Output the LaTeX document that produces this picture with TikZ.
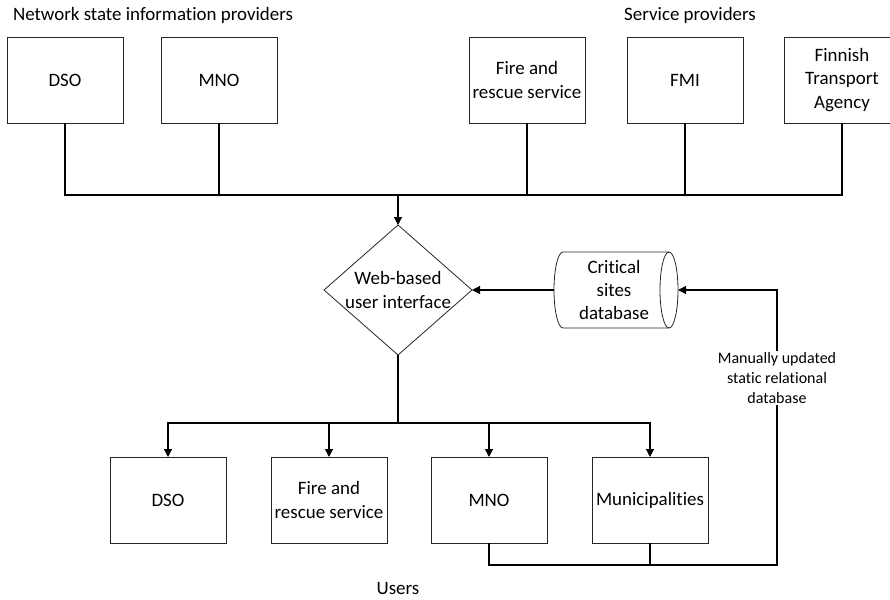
\documentclass[tikz,border=0pt]{standalone}
\usepackage{fontspec}
\setmainfont{Carlito}[Ligatures=NoCommon]
\usetikzlibrary{shapes.geometric,arrows.meta}
\begin{document}
\begin{tikzpicture}[x=0.75pt,y=-0.75pt,
  box/.style={draw=black!85,line width=0.6pt,rectangle,inner sep=0pt,outer sep=0pt,
    minimum width=87pt,minimum height=64.5pt,align=center,font=\fontsize{14.2}{17.3}\selectfont},
  lbl/.style={inner sep=0pt,font=\fontsize{14.2}{17.3}\selectfont},
  conn/.style={line width=0.9pt,black},
  arr/.style={conn,-{Triangle[length=6pt,width=6pt]}}]
\useasboundingbox (0,0) rectangle (890,600);
% titles
\node[lbl] (tnet) at (153,15) {Network state information providers};
\node[lbl] (tsp) at (690,15) {Service providers};
\node[lbl] (tusers) at (398,588) {Users};
% top boxes
\node[box] (dso1) at (65,80) {DSO};
\node[box] (mno1) at (219,80) {MNO};
\node[box] (fire1) at (527,80) {Fire and\\rescue service};
\node[box] (fmi1) at (685,80) {FMI};
\node[box] (fta1) at (842,80) {Finnish\\Transport\\Agency};
% diamond
\node[draw=black!85,line width=0.6pt,diamond,aspect=1.138,inner sep=0pt,outer sep=0pt,
  minimum width=111pt,minimum height=97.5pt,align=center,
  font=\fontsize{14.2}{17.3}\selectfont] (web) at (398,290) {Web-based\\user interface};
% database cylinder
\node[inner sep=0pt,outer sep=0pt,minimum width=93pt,minimum height=57pt,align=center,
  font=\fontsize{14.2}{17.3}\selectfont] (db) at (614,290) {Critical\\sites\\database};
\draw[black!85,line width=0.6pt] (669,252) -- (563,252) arc[start angle=90,end angle=270,x radius=6.75pt,y radius=28.5pt] -- (669,328);
\draw[black!85,line width=0.6pt] (669,290) ellipse[x radius=6.75pt,y radius=28.5pt];
% bottom boxes
\node[box] (dso2) at (168,500) {DSO};
\node[box] (fire2) at (329,500) {Fire and\\rescue service};
\node[box] (mno2) at (489,500) {MNO};
\node[box] (muni2) at (650,500) {Municipalities};
% coordinates
\coordinate (bustop) at (398,195);
\coordinate (busbot) at (398,423);
\coordinate (dbin) at (678,290);
\coordinate (dbout) at (554,290);
\coordinate (corner) at (777,565);
% top connections
\draw[conn] (dso1.south) |- (bustop);
\draw[conn] (fta1.south) |- (bustop);
\draw[conn] (mno1.south) -- (mno1.south |- bustop);
\draw[conn] (fire1.south) -- (fire1.south |- bustop);
\draw[conn] (fmi1.south) -- (fmi1.south |- bustop);
\draw[arr] (bustop) -- (web.north);
% db to web
\draw[arr] (dbout) -- (web.east);
% bottom connections
\draw[conn] (web.south) -- (busbot);
\draw[arr] (busbot) -| (dso2.north);
\draw[arr] (busbot) -| (fire2.north);
\draw[arr] (busbot) -| (mno2.north);
\draw[arr] (busbot) -| (muni2.north);
% feedback loop
\draw[conn] (muni2.south) -- (muni2.south |- corner);
\draw[arr] (mno2.south) |- (corner) |- (dbin);
\node[fill=white,inner sep=1pt,align=center,font=\fontsize{12}{15}\selectfont] (manual) at (777,378)
  {Manually updated\\static relational\\database};
\end{tikzpicture}
\end{document}
